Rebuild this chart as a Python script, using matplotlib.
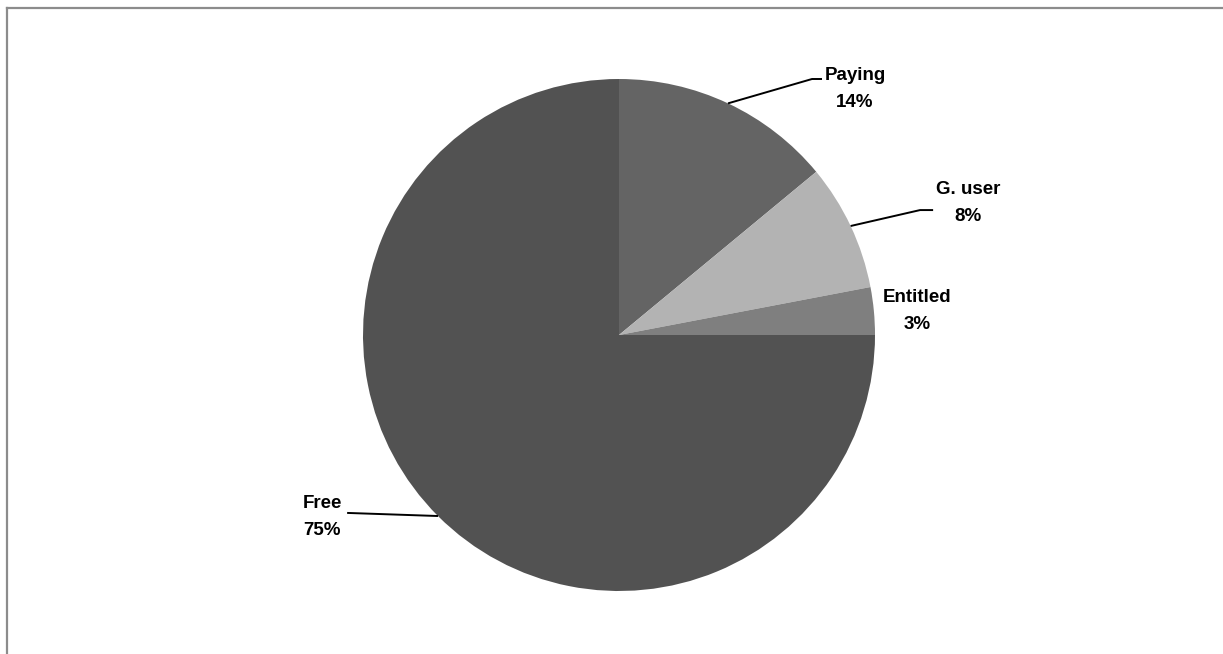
import numpy as np
import matplotlib
matplotlib.use("Agg")
from matplotlib import pyplot as plt
from matplotlib.lines import Line2D

labels = ["Paying", "G. user", "Entitled", "Free"]
shares = [14, 8, 3, 75]
colors = ["#646464", "#b3b3b3", "#7f7f7f", "#525252"]

# label centres and leader line bends, in pie radius units
label_pos = {"Paying": (0.922, 0.961), "G. user": (1.363, 0.516),
             "Entitled": (1.164, 0.094), "Free": (-1.160, -0.711)}
leader = {"Paying": [(0.754, 1.0), (0.793, 1.0)],
          "G. user": [(1.176, 0.488), (1.227, 0.488)],
          "Free": [(-1.062, -0.695)]}

W, H = 1223, 654
fig = plt.figure(figsize=(W / 100, H / 100), dpi=100)
fig.patch.set_facecolor("white")

cx, cy, r = 619, 335, 256
ax = fig.add_axes([(cx - r) / W, (H - cy - r) / H, 2 * r / W, 2 * r / H])
wedges, _ = ax.pie(shares, colors=colors, startangle=90, counterclock=False,
                   radius=1, wedgeprops=dict(linewidth=0))
ax.set_xlim(-1, 1)
ax.set_ylim(-1, 1)
ax.set_aspect("equal")
ax.axis("off")

font = dict(family=["Liberation Sans", "DejaVu Sans"], weight="bold", size=13.5)
for w, lab, val in zip(wedges, labels, shares):
    mid = np.deg2rad((w.theta1 + w.theta2) / 2)
    ex, ey = np.cos(mid), np.sin(mid)
    tx, ty = label_pos[lab]
    ax.text(tx, ty, "%s\n%d%%" % (lab, val), ha="center", va="center",
            linespacing=1.75, clip_on=False, **font)
    if lab in leader:
        pts = [(ex, ey)] + leader[lab]
        xs, ys = zip(*pts)
        ax.plot(xs, ys, color="black", lw=1.4, clip_on=False,
                solid_capstyle="butt")

# chart frame (only top and left edges fall inside the image)
fig.add_artist(Line2D([7 / W, 1], [1 - 8 / H, 1 - 8 / H], color="#8c8c8c", lw=1.6))
fig.add_artist(Line2D([7 / W, 7 / W], [0, 1 - 8 / H], color="#8c8c8c", lw=1.6))

fig.savefig("out.png", dpi=100)
